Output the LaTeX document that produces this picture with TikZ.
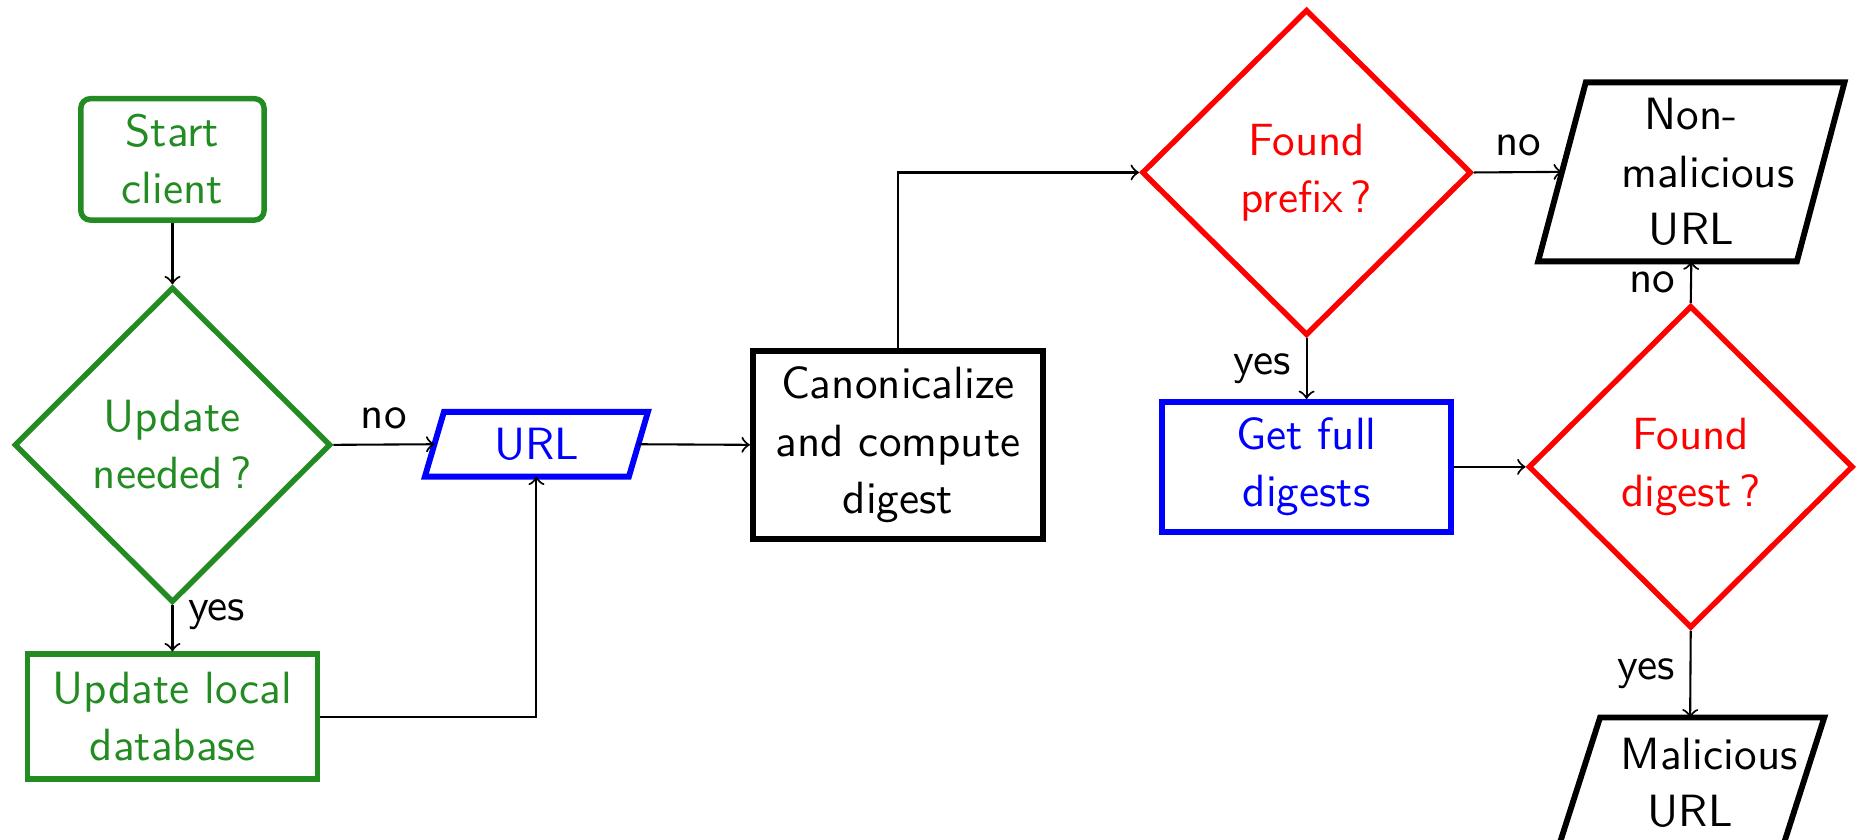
\documentclass[tikz,border=0pt]{standalone}
\usetikzlibrary{shapes.geometric,arrows}
\definecolor{fgreen}{RGB}{34,139,34}
\newcommand\parlg[3]{\draw[#3,line width=1.4pt,line join=miter]
  ([xshift=#2]#1.north west) -- ([xshift=#2]#1.north east) --
  ([xshift=-#2]#1.south east) -- ([xshift=-#2]#1.south west) -- cycle;}
\begin{document}
\begin{tikzpicture}[x=0.01cm,y=-0.01cm,
  every node/.style={font=\fontsize{10.8}{13.7}\selectfont\sffamily,align=center,inner sep=0pt},
  every label/.style={font=\fontsize{10.8}{13.7}\selectfont\sffamily,align=center,inner sep=0pt},
  lbl/.style={font=\fontsize{10.8}{13.7}\selectfont\sffamily,inner sep=3.5pt,text=black},
  boxg/.style={draw=fgreen,text=fgreen,line width=1.3pt},
  dia/.style={diamond,line width=1.3pt},
  plg/.style={draw=none,rectangle},
  conn/.style={->,line width=0.5pt}]
\useasboundingbox (0,0) rectangle (1568,706);
% nodes
\node[boxg,rounded corners=0.8mm,minimum width=1.54cm,minimum height=1.02cm] (start) at (145,134) {Start\\client};
\node[dia,draw=fgreen,text=fgreen,minimum width=2.66cm,minimum height=2.65cm] (upd) at (145,374) {Update\\needed\,?};
\node[boxg,minimum width=2.44cm,minimum height=1.05cm] (db) at (145,602.5) {Update local\\database};
\node[plg,text=blue,minimum width=1.70cm,minimum height=0.53cm] (url) at (451,373.5) {URL};
\node[draw=black,line width=1.4pt,minimum width=2.44cm,minimum height=1.58cm] (canon) at (755,374) {Canonicalize\\and compute\\digest};
\node[dia,draw=red,text=red,minimum width=2.77cm,minimum height=2.74cm] (prefix) at (1098.5,145) {Found\\prefix\,?};
\node[plg,minimum width=2.16cm,minimum height=1.49cm,
  label={center:Non-\\\hspace*{0.28cm}malicious\\URL}] (nonmal) at (1422,144.5) {};
\node[draw=blue,text=blue,line width=1.4pt,minimum width=2.43cm,minimum height=1.09cm] (full) at (1098.5,392.5) {Get full\\digests};
\node[dia,draw=red,text=red,minimum width=2.73cm,minimum height=2.71cm] (digest) at (1421.5,392.5) {Found\\digest\,?};
\node[plg,minimum width=1.87cm,minimum height=1.14cm,
  label={[yshift=0.03cm]center:\hspace*{0.32cm}Malicious\\URL}] (mal) at (1421,661) {};
% parallelogram outlines
\parlg{url}{0.08cm}{blue}
\parlg{nonmal}{0.20cm}{black}
\parlg{mal}{0.185cm}{black}
% connectors
\draw[conn] (start) -- (upd);
\draw[conn] (upd.east) -- node[lbl,above]{no} (url.west);
\draw[conn] (upd) -- node[lbl,right,pos=0.2]{yes} (db);
\draw[conn] (db.east) -| (url.south);
\draw[conn] (url.east) -- (canon.west);
\draw[conn] (canon.north) |- (prefix.west);
\draw[conn] (prefix.east) -- node[lbl,above]{no} (nonmal.west);
\draw[conn] (prefix) -- node[lbl,left]{yes} (full);
\draw[conn] (full.east) -- (digest.west);
\draw[conn] (digest.north) -- node[lbl,left]{no} (nonmal.south);
\draw[conn] (digest.south) -- node[lbl,left]{yes} (mal.north);
\end{tikzpicture}
\end{document}
